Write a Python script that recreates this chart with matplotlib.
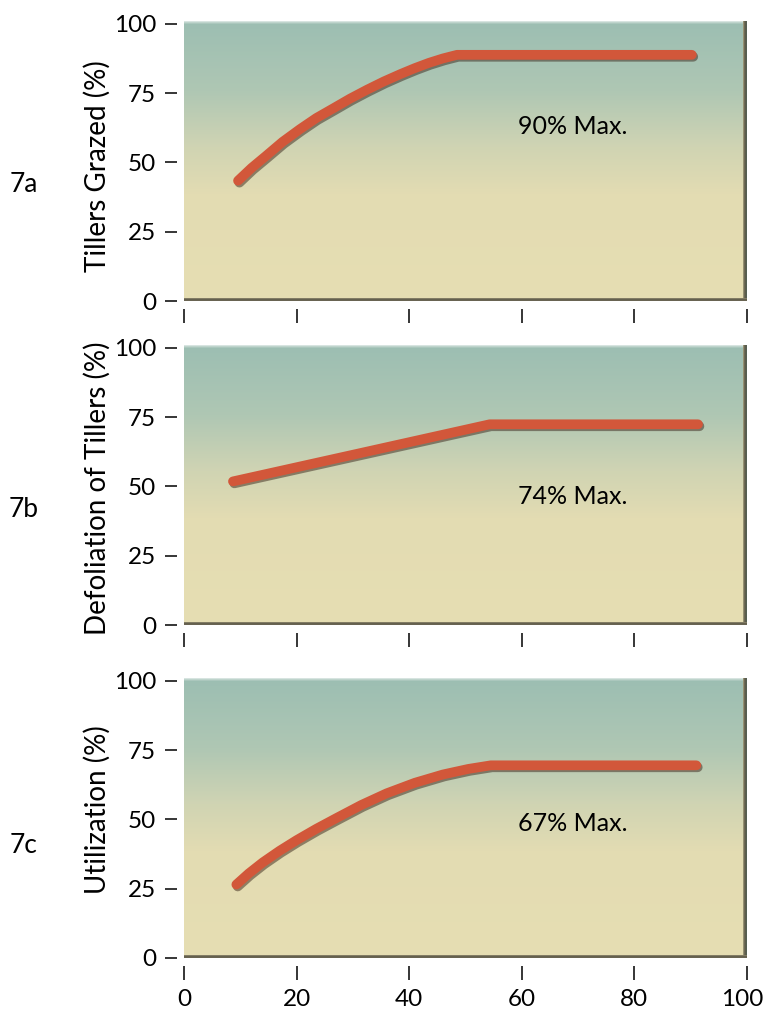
import numpy as np
import matplotlib.pyplot as plt
import matplotlib.transforms as mtrans
from matplotlib import patheffects as pe

plt.rcParams['font.family'] = ['Lato', 'DejaVu Sans']

# ---- data ----
x_grazed = [9.6, 12.0, 14.6, 17.5, 20.6, 23.5, 26.6, 29.5, 32.5, 35.5, 38.5, 41.0, 43.5, 46.0, 48.5, 90.2]
y_grazed = [43.4, 48.0, 52.4, 57.4, 62.0, 66.0, 69.6, 73.0, 76.2, 79.2, 81.9, 84.0, 85.9, 87.5, 88.8, 88.8]

x_defol = [8.7, 31.3, 54.3, 91.3]
y_defol = [51.8, 62.0, 72.4, 72.4]

x_util = [9.3, 11.5, 14.0, 17.0, 20.0, 23.5, 27.0, 31.5, 36.0, 41.0, 46.0, 50.5, 54.5, 91.0]
y_util = [26.5, 30.5, 34.5, 38.7, 42.5, 46.6, 50.4, 55.2, 59.4, 63.2, 66.2, 68.2, 69.5, 69.5]

panel_ids = ['7a', '7b', '7c']
ylabels = ['Tillers Grazed (%)', 'Defoliation of Tillers (%)', 'Utilization (%)']
max_notes = ['90% Max.', '74% Max.', '67% Max.']
note_x = [69, 69, 69]
note_y = [63, 46.5, 48.5]
yticks = [0, 25, 50, 75, 100]
xticks = [0, 20, 40, 60, 80, 100]

series = [(x_grazed, y_grazed), (x_defol, y_defol), (x_util, y_util)]

# ---- styling ----
FS = 17.5
FS_LABEL = 20
LINE_COLOR = '#d2573a'
W, H = 766, 1015


def panel_bg(h=280, w=563):
    # vertical teal -> pale yellow gradient, dark edge on right and bottom
    t = np.linspace(0, 1, h)
    stops = [0.0, 0.25, 0.45, 0.62, 1.0]
    cols = np.array([
        [156, 190, 178],
        [175, 199, 180],
        [208, 212, 179],
        [227, 220, 178],
        [230, 222, 179],
    ]) / 255.0
    img = np.empty((h, w, 3))
    for c in range(3):
        img[:, :, c] = np.interp(t, stops, cols[:, c])[:, None]
    # soft light fade at the very top
    for i, a in enumerate([0.6, 0.35, 0.15]):
        img[i] = img[i] * (1 - a) + a
    # box shadow
    right = np.array([[85, 95, 82], [92, 92, 76], [110, 106, 85], [150, 145, 115]]) / 255.0
    for j in range(4):
        img[:, w - 1 - j, :] = right[j]
    bottom = np.array([[105, 100, 82], [100, 96, 78], [130, 124, 100]]) / 255.0
    for j in range(3):
        img[h - 1 - j, :, :] = bottom[j]
    return img


fig = plt.figure(figsize=(W / 100, H / 100), dpi=100)

bottoms_px = [301, 625, 958]
label_y = [0.48, 0.49, 0.53]
id_baseline_px = [192, 517, 853]
bg = panel_bg()

for i in range(3):
    ax = fig.add_axes([184 / W, (H - bottoms_px[i]) / H, 563 / W, 280 / H])
    ax.imshow(bg, extent=[0, 100, 0, 101], aspect='auto', zorder=0,
              interpolation='bilinear')
    ax.set_xlim(0, 100)
    ax.set_ylim(0, 101)

    xs, ys = series[i]
    ax.plot(xs, ys, color=LINE_COLOR, lw=7, solid_capstyle='round',
            solid_joinstyle='round', zorder=3,
            path_effects=[pe.SimpleLineShadow(offset=(1, -1.4), shadow_color='#3a2418', alpha=0.5),
                          pe.Normal()])

    ax.text(note_x[i], note_y[i], max_notes[i], ha='center', va='center',
            fontsize=FS + 0.5, color='black', zorder=4)

    for s in ax.spines.values():
        s.set_visible(False)
    ax.spines['left'].set_position(('outward', 5))
    ax.spines['bottom'].set_position(('outward', 6))

    ax.set_yticks(yticks)
    ax.set_xticks(xticks)
    ax.tick_params(axis='y', direction='out', length=8.6, width=1.1, pad=6.5,
                   labelsize=FS, color='black')
    ax.tick_params(axis='x', direction='out', length=10, width=1.1, pad=6.5,
                   labelsize=FS, color='black', labelbottom=(i == 2))

    ax.set_ylabel(ylabels[i], fontsize=FS_LABEL)
    ax.yaxis.set_label_coords(-0.131, label_y[i])

    if i == 2:
        # keep the last tick label inside the canvas
        lab = ax.get_xticklabels()[-1]
        lab.set_transform(lab.get_transform() +
                          mtrans.ScaledTranslation(-5 / 100, 0, fig.dpi_scale_trans))

    fig.text(24 / W, (H - id_baseline_px[i]) / H, panel_ids[i], ha='center',
             va='baseline', fontsize=19)

fig.savefig('out.png', dpi=100, facecolor='white')
